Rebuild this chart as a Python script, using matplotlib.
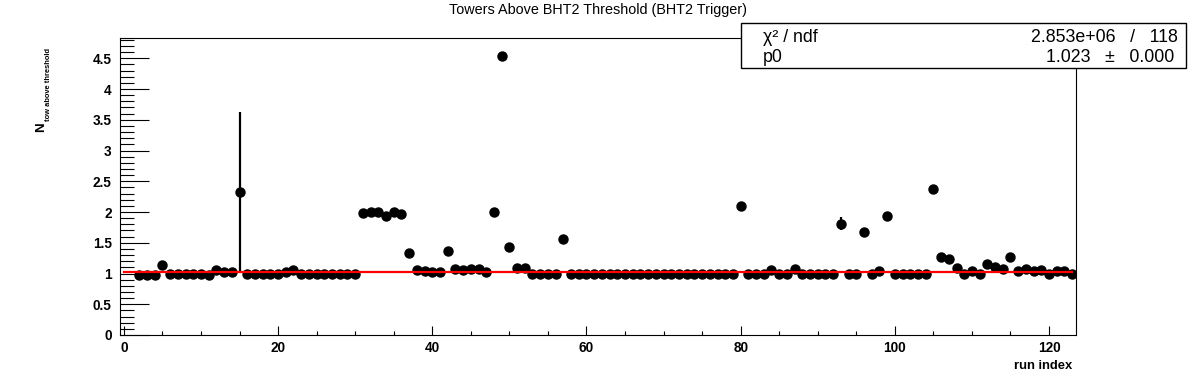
import matplotlib.pyplot as plt
from matplotlib.patches import Rectangle
from matplotlib.ticker import MultipleLocator
import numpy as np

plt.rcParams['font.family'] = ['Liberation Sans', 'DejaVu Sans']

# run indices 2..123
run_index = list(range(2, 124))
n_tow = [
    0.98, 0.98, 0.98, 1.14, 1.00, 1.00, 1.00, 1.00, 1.00, 0.98,   # 2-11
    1.06, 1.02, 1.02, 2.32, 1.00, 1.00, 1.00, 1.00, 1.00, 1.02,   # 12-21
    1.05, 1.00, 1.00, 1.00, 1.00, 1.00, 1.00, 1.00, 1.00, 1.98,   # 22-31
    2.00, 2.00, 1.93, 2.00, 1.97, 1.33, 1.05, 1.04, 1.03, 1.03,   # 32-41
    1.37, 1.07, 1.05, 1.08, 1.08, 1.03, 2.00, 4.53, 1.43, 1.09,   # 42-51
    1.09, 1.00, 1.00, 1.00, 1.00, 1.56, 1.00, 1.00, 1.00, 1.00,   # 52-61
    1.00, 1.00, 1.00, 1.00, 1.00, 1.00, 1.00, 1.00, 1.00, 1.00,   # 62-71
    1.00, 1.00, 1.00, 1.00, 1.00, 1.00, 1.00, 1.00, 2.09, 1.00,   # 72-81
    1.00, 1.00, 1.06, 1.00, 1.00, 1.08, 1.00, 1.00, 1.00, 1.00,   # 82-91
    1.00, 1.81, 1.00, 1.00, 1.68, 1.00, 1.04, 1.94, 1.00, 1.00,   # 92-101
    1.00, 1.00, 1.00, 2.37, 1.27, 1.23, 1.09, 1.00, 1.04, 1.00,   # 102-111
    1.16, 1.10, 1.07, 1.27, 1.04, 1.07, 1.04, 1.05, 1.00, 1.04,   # 112-121
    1.04, 1.00,                                                   # 122-123
]
n_tow_err = [0.0] * len(run_index)
n_tow_err[15 - 2] = 1.30
n_tow_err[93 - 2] = 0.11

# constant fit
p0 = 1.023
fit_range = [0.0, 123.0]
chi2_text = "2.853e+06   /   118"
p0_text = "1.023   \u00b1   0.000"

fig = plt.figure(figsize=(11.96, 3.72), dpi=100)
W, H = 1196.0, 372.0
ax = fig.add_axes([120 / W, 1 - 335 / H, 956 / W, 297 / H])

ax.errorbar(run_index, n_tow, yerr=n_tow_err, fmt='o', color='black',
            markersize=6.5, elinewidth=1.6, capsize=0, zorder=3)
ax.plot(fit_range, [p0, p0], color='#ff0000', lw=1.6, zorder=4)

ax.set_xlim(-0.5, 123.5)
ax.set_ylim(0, 4.83)

ax.xaxis.set_major_locator(MultipleLocator(20))
ax.xaxis.set_minor_locator(MultipleLocator(5))
ax.yaxis.set_major_locator(MultipleLocator(0.5))
ax.yaxis.set_minor_locator(MultipleLocator(0.1))
ax.yaxis.set_major_formatter(plt.FuncFormatter(lambda v, p: f"{v:g}"))

ax.tick_params(axis='both', which='both', direction='in', top=False, right=False,
               width=0.8, labelsize=9.8)
ax.tick_params(axis='y', which='major', length=21, pad=6)
ax.tick_params(axis='y', which='minor', length=10)
ax.tick_params(axis='x', which='major', length=6.5, pad=4)
ax.tick_params(axis='x', which='minor', length=3.2)
for lab in ax.get_xticklabels() + ax.get_yticklabels():
    lab.set_fontweight('bold')
for s in ax.spines.values():
    s.set_linewidth(0.8)

fig.text(0.5, 1 - 10 / H, "Towers Above BHT2 Threshold (BHT2 Trigger)",
         ha='center', va='center', fontsize=10.4)
fig.text(1072 / W, 1 - 366 / H, "run index", ha='right', va='center',
         fontsize=9.4, fontweight='bold')
# y title: N with small subscript, top-aligned like ROOT
fig.text(41 / W, 1 - 132 / H, "N", rotation=90, ha='center', va='bottom',
         fontsize=9.6, fontweight='bold')
fig.text(48 / W, 1 - 121 / H, "tow above threshold", rotation=90,
         ha='center', va='bottom', fontsize=5.4, fontweight='bold')

# stats box
fig.patches.append(Rectangle((741 / W, 1 - 68 / H), 445 / W, 45 / H,
                             transform=fig.transFigure, facecolor='white',
                             edgecolor='black', lw=1.0, zorder=5))
fig.text(763 / W, 1 - 37 / H, "\u03c7\u00b2 / ndf", ha='left', va='center',
         fontsize=12.8, zorder=6)
fig.text(1178 / W, 1 - 37 / H, chi2_text, ha='right', va='center',
         fontsize=12.8, zorder=6)
fig.text(763 / W, 1 - 58 / H, "p0", ha='left', va='center',
         fontsize=12.8, zorder=6)
fig.text(1174 / W, 1 - 58 / H, p0_text, ha='right', va='center',
         fontsize=12.8, zorder=6)

fig.savefig("out.png", dpi=100)
